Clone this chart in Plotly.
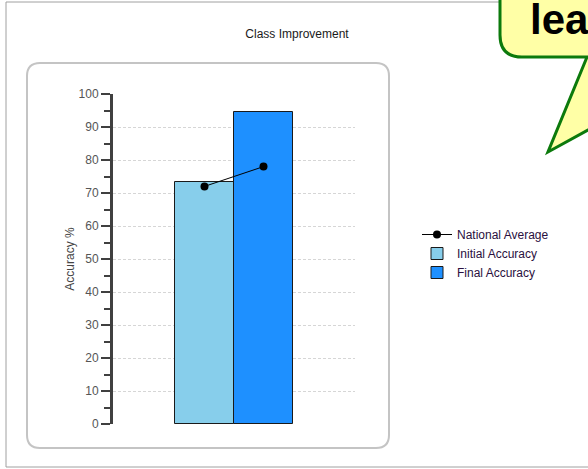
import plotly.graph_objects as go

# ---- data ----
categories = ["Initial", "Final"]
initial_accuracy = [73.4]
final_accuracy = [94.4]
national_average = [72, 78]
y_ticks = [0, 10, 20, 30, 40, 50, 60, 70, 80, 90, 100]
title_text = "Class Improvement"
y_title = "Accuracy %"
callout_text = "learn"

W, H = 588, 469


def px(x):
    return x / W


def py(y):
    return 1 - y / H


def rounded_rect(x0, y0, x1, y1, r):
    return (
        f"M {px(x0 + r)} {py(y0)} L {px(x1 - r)} {py(y0)} "
        f"Q {px(x1)} {py(y0)} {px(x1)} {py(y0 + r)} "
        f"L {px(x1)} {py(y1 - r)} Q {px(x1)} {py(y1)} {px(x1 - r)} {py(y1)} "
        f"L {px(x0 + r)} {py(y1)} Q {px(x0)} {py(y1)} {px(x0)} {py(y1 - r)} "
        f"L {px(x0)} {py(y0 + r)} Q {px(x0)} {py(y0)} {px(x0 + r)} {py(y0)} Z"
    )


fig = go.Figure()
fig.add_trace(go.Bar(
    name="Initial Accuracy", x=[categories[0]], y=initial_accuracy,
    marker=dict(color="#87CEEB", line=dict(color="#1a1a1a", width=1)),
    legendrank=2,
))
fig.add_trace(go.Bar(
    name="Final Accuracy", x=[categories[1]], y=final_accuracy,
    marker=dict(color="#1E90FF", line=dict(color="#1a1a1a", width=1)),
    legendrank=3,
))
fig.add_trace(go.Scatter(
    name="National Average", x=categories, y=national_average,
    mode="lines+markers",
    line=dict(color="black", width=1),
    marker=dict(color="black", size=8),
    legendrank=1,
))

shapes = [
    # outer frame
    dict(type="rect", xref="paper", yref="paper", x0=px(6), x1=px(640), y0=py(467), y1=py(2),
         line=dict(color="#a0a0a0", width=1), layer="below"),
    # panel
    dict(type="path", xref="paper", yref="paper", path=rounded_rect(27, 63, 389, 448, 13),
         line=dict(color="#c4c4c4", width=2), layer="below"),
    # callout bubble
    dict(type="path", xref="paper", yref="paper",
         path=(f"M {px(500)} {py(-40)} L {px(500)} {py(35)} Q {px(500)} {py(57)} {px(522)} {py(57)} "
               f"L {px(587)} {py(57)} L {px(548)} {py(152)} L {px(721)} {py(57)} "
               f"L {px(760)} {py(57)} L {px(760)} {py(-40)} Z"),
         fillcolor="#ffffa6", line=dict(color="#0c7a0c", width=3), layer="above"),
]

fig.update_layout(
    width=W, height=H,
    margin=dict(l=0, r=0, t=0, b=0),
    paper_bgcolor="white", plot_bgcolor="rgba(0,0,0,0)",
    barmode="overlay", bargap=0,
    font=dict(family="Liberation Sans, Arial, sans-serif", size=12, color="#222"),
    title=dict(text=title_text, x=px(297), y=py(34), xref="paper", yref="paper",
               xanchor="center", yanchor="middle",
               font=dict(size=12, color="#1a1a1a")),
    xaxis=dict(domain=[px(113), px(355)], range=[-1.55, 2.55], visible=False,
               type="category", categoryorder="array", categoryarray=categories),
    yaxis=dict(domain=[py(424), py(94)], range=[0, 100], tickvals=y_ticks,
               showgrid=True, gridcolor="#d6d6d6", griddash="3px,2px", gridwidth=1,
               zeroline=False, showline=True, linecolor="#404040", linewidth=3,
               ticks="outside", ticklen=9, tickwidth=2, tickcolor="#404040",
               tickfont=dict(size=12, color="#555"),
               minor=dict(dtick=5, ticks="outside", ticklen=6, tickwidth=2,
                          tickcolor="#404040", showgrid=False),
               title=dict(text=y_title, standoff=2, font=dict(size=12, color="#444")),
               automargin=False),
    legend=dict(x=px(417), y=py(220), xanchor="left", yanchor="top",
                bgcolor="rgba(0,0,0,0)", font=dict(size=12, color="#2a1040"),
                tracegroupgap=0),
    shapes=shapes,
    annotations=[dict(text=f"<b>{callout_text}</b>", xref="paper", yref="paper",
                      x=px(528), y=py(20), xanchor="left", yanchor="middle",
                      showarrow=False, font=dict(size=42, color="black",
                                                 family="Liberation Sans, Arial, sans-serif"))],
)

fig.write_html("out.html", config={"displayModeBar": False},
               post_script="document.body.style.margin='0';document.body.style.overflow='hidden';")
